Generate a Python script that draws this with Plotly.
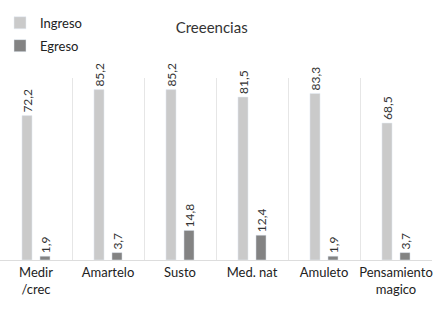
import plotly.graph_objects as go

categories = ["Medir<br>/crec", "Amartelo", "Susto", "Med. nat", "Amuleto", "Pensamiento<br>magico"]
ingreso = [72.2, 85.2, 85.2, 81.5, 83.3, 68.5]
egreso = [1.9, 3.7, 14.8, 12.4, 1.9, 3.7]

def fmt(v):
    return f"{v:.1f}".replace(".", ",")

FONT = "Lato"
fig = go.Figure()
fig.add_trace(go.Bar(name="Ingreso", x=categories, y=ingreso, marker_color="#cacaca",
                     legendgroup="a",
                     text=[fmt(v) for v in ingreso], textposition="outside", textangle=-90,
                     constraintext="none",
                     textfont=dict(size=12, color="#333333", family=FONT), cliponaxis=False))
fig.add_trace(go.Bar(name="Egreso", x=categories, y=egreso, marker_color="#838383",
                     legendgroup="b",
                     text=[fmt(v) for v in egreso], textposition="outside", textangle=-90,
                     constraintext="none",
                     textfont=dict(size=12, color="#333333", family=FONT), cliponaxis=False))

fig.update_layout(
    width=448, height=312,
    margin=dict(l=0, r=16, t=78, b=52, autoexpand=False),
    paper_bgcolor="white", plot_bgcolor="white",
    barmode="group", bargap=0.5, bargroupgap=0.44,
    font=dict(family=FONT, color="#222222", size=13),
    title=dict(text="Creeencias", x=0.49, xref="paper", y=0.91, yref="container",
               xanchor="center", yanchor="middle", font=dict(size=15, color="#333333", family=FONT)),
    legend=dict(x=0.0, xref="container", y=0.975, yref="container", xanchor="left", yanchor="top",
                font=dict(size=13, color="#222222", family=FONT), itemwidth=30, tracegroupgap=3,
                bgcolor="rgba(0,0,0,0)"),
    showlegend=True,
)
fig.update_xaxes(tickson="boundaries", showgrid=True, gridcolor="#e6e6e6", gridwidth=1,
                 ticks="", showline=True, linecolor="#dddddd", tickfont=dict(size=13, color="#222222"),
                 tickangle=0)
fig.update_yaxes(range=[0, 91], visible=False, showgrid=False)

fig.write_html("out.html", config={"displayModeBar": False},
               post_script="document.body.style.margin='0';")
